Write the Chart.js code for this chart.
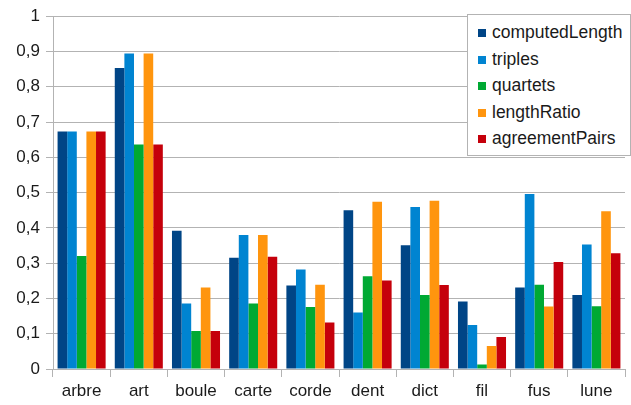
<!DOCTYPE html>
<html>
<head>
<meta charset="utf-8">
<script src="https://cdn.jsdelivr.net/npm/chart.js@4"></script>
<style>
  body { margin: 0; background: #fff; }
  #wrap { position: relative; width: 631px; height: 405px; }
  #legend {
    position: absolute; left: 467px; top: 14px; width: 162px; height: 140px;
    background: #fff; border: 1px solid #b3b3b3;
    font: 17.5px "Liberation Sans", Arial, sans-serif; color: #1a1a1a;
  }
  #legend div { position: absolute; left: 10px; height: 20px; line-height: 20px; white-space: nowrap; }
  #legend span { display: inline-block; width: 8px; height: 8px; margin-right: 6px; vertical-align: 1px; }
</style>
</head>
<body>
<div id="wrap">
  <canvas id="chart" width="631" height="405"></canvas>
  <div id="legend"></div>
</div>
<script>
'use strict';

var categories = ['arbre', 'art', 'boule', 'carte', 'corde', 'dent', 'dict', 'fil', 'fus', 'lune'];

var computedLength = [0.673, 0.853, 0.392, 0.315, 0.237, 0.450, 0.351, 0.191, 0.231, 0.210];
var triples        = [0.673, 0.894, 0.186, 0.380, 0.282, 0.160, 0.459, 0.125, 0.496, 0.353];
var quartets       = [0.320, 0.636, 0.108, 0.186, 0.176, 0.263, 0.210, 0.013, 0.239, 0.178];
var lengthRatio    = [0.673, 0.894, 0.231, 0.380, 0.239, 0.474, 0.477, 0.065, 0.177, 0.447];
var agreementPairs = [0.673, 0.636, 0.108, 0.318, 0.132, 0.251, 0.238, 0.091, 0.303, 0.328];

var seriesNames  = ['computedLength', 'triples', 'quartets', 'lengthRatio', 'agreementPairs'];
var seriesValues = [computedLength, triples, quartets, lengthRatio, agreementPairs];
var seriesColors = ['#004586', '#0084d1', '#00a933', '#ff950e', '#c5000b'];

var gridColor = '#b3b3b3';
var font      = { family: '"Liberation Sans", Arial, sans-serif', size: 17 };

var datasets = seriesNames.map(function (name, i) {
    return {
        label: name,
        data: seriesValues[i],
        backgroundColor: seriesColors[i],
        categoryPercentage: 0.84,
        barPercentage: 1
    };
});

new Chart(document.getElementById('chart'), {
    type: 'bar',
    data: { labels: categories, datasets: datasets },
    options: {
        responsive: false,
        animation: false,
        layout: { padding: { top: 16, right: 6, left: 0, bottom: 0 } },
        plugins: {
            legend: { display: false },
            tooltip: { enabled: false }
        },
        scales: {
            x: {
                offset: true,
                grid: { offset: true, drawOnChartArea: false, drawTicks: true, tickLength: 8, color: gridColor },
                border: { display: true, color: gridColor },
                ticks: { color: '#1a1a1a', font: font, padding: 4 },
                afterFit: function (scale) { scale.height = 36; }
            },
            y: {
                min: 0,
                max: 1,
                grid: { color: gridColor, tickLength: 7 },
                border: { display: true, color: gridColor },
                ticks: {
                    stepSize: 0.1,
                    color: '#1a1a1a',
                    font: font,
                    padding: 6,
                    callback: function (v) {
                        return String(Math.round(v * 10) / 10).replace('.', ',');
                    }
                },
                afterFit: function (scale) { scale.width = 53; }
            }
        }
    }
});

// Legend box drawn over the plot, like the original
var legendEl = document.getElementById('legend');
seriesNames.forEach(function (name, i) {
    var row = document.createElement('div');
    row.style.top = (7 + i * 26.5) + 'px';
    var sw = document.createElement('span');
    sw.style.background = seriesColors[i];
    row.appendChild(sw);
    row.appendChild(document.createTextNode(name));
    legendEl.appendChild(row);
});
</script>
</body>
</html>
